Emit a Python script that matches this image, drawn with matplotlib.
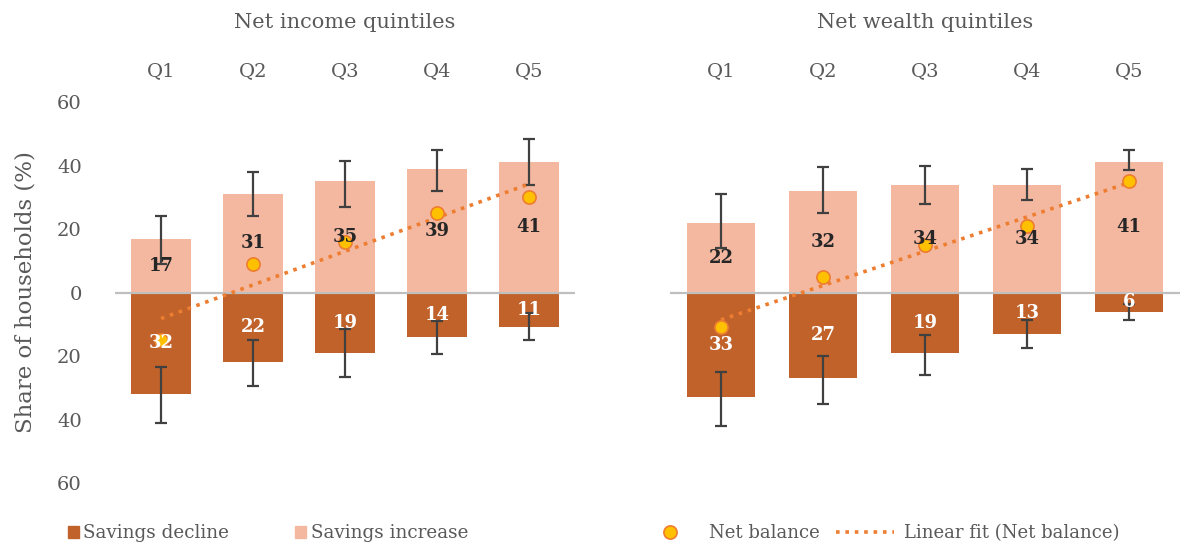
import matplotlib
matplotlib.use("Agg")
import matplotlib.pyplot as plt
from matplotlib.lines import Line2D
from matplotlib.patches import Patch
import numpy as np

quintiles = ["Q1", "Q2", "Q3", "Q4", "Q5"]

# Net income quintiles
inc_increase = [17, 31, 35, 39, 41]
inc_decline = [32, 22, 19, 14, 11]
inc_net = [-15, 9, 16, 25, 30]
inc_inc_lo = [9, 24, 27, 32, 34]
inc_inc_hi = [24, 38, 41.5, 45, 48.5]
inc_dec_lo = [23.5, 15, 11.5, 9, 6.5]
inc_dec_hi = [41, 29.5, 26.5, 19.5, 15]

# Net wealth quintiles
wea_increase = [22, 32, 34, 34, 41]
wea_decline = [33, 27, 19, 13, 6]
wea_net = [-11, 5, 15, 21, 35]
wea_inc_lo = [14, 25, 28, 29, 38.5]
wea_inc_hi = [31, 39.5, 40, 39, 45]
wea_dec_lo = [25, 20, 13.5, 8.5, 3.5]
wea_dec_hi = [42, 35, 26, 17.5, 8.5]

DECLINE = "#C0622A"
INCREASE = "#F4B8A0"
DOT_FILL = "#FFC000"
DOT_EDGE = "#ED7D31"
ERR = "#404040"
TXT = "#595959"
FONT = "DejaVu Serif"

plt.rcParams["font.family"] = FONT

fig = plt.figure(figsize=(11.92, 5.5), dpi=100)
ax1 = fig.add_axes([0.0965, 0.1218, 0.386, 0.6927])
ax2 = fig.add_axes([0.562, 0.1218, 0.428, 0.6927])


def draw_panel(ax, title, increase, decline, net, inc_lo, inc_hi, dec_lo, dec_hi, show_y):
    x = np.arange(1, len(quintiles) + 1)
    inc = np.array(increase)
    dec = -np.array(decline)
    ax.bar(x, inc, width=0.66, color=INCREASE, zorder=1)
    ax.bar(x, dec, width=0.66, color=DECLINE, zorder=1)
    ax.axhline(0, color="#BFBFBF", lw=1.6, zorder=2)

    # error bars
    lo = np.array(inc_lo)
    hi = np.array(inc_hi)
    ax.errorbar(x, (lo + hi) / 2, yerr=(hi - lo) / 2, fmt="none", ecolor=ERR,
                elinewidth=1.6, capsize=4, capthick=1.6, zorder=3)
    lo = -np.array(dec_lo)
    hi = -np.array(dec_hi)
    ax.errorbar(x, (lo + hi) / 2, yerr=np.abs(hi - lo) / 2, fmt="none", ecolor=ERR,
                elinewidth=1.6, capsize=4, capthick=1.6, zorder=3)

    # linear fit of net balance
    coef = np.polyfit(x, net, 1)
    ax.plot(x, np.polyval(coef, x), linestyle=(0, (1, 1.6)), color=DOT_EDGE, lw=2.6, zorder=4)
    ax.plot(x, net, "o", ms=9.5, mfc=DOT_FILL, mec=DOT_EDGE, mew=1.2, zorder=5)

    for xi, v in zip(x, inc):
        ax.text(xi, v / 2, f"{v}", ha="center", va="center", fontsize=13,
                fontweight="bold", color="#262626", zorder=6)
    for xi, v in zip(x, dec):
        ax.text(xi, v / 2, f"{-v}", ha="center", va="center", fontsize=13,
                fontweight="bold", color="white", zorder=6)

    ax.set_xlim(0.5, 5.5)
    ax.set_ylim(-60, 60)
    ax.set_xticks(x)
    ax.set_xticklabels(quintiles, fontsize=14, color=TXT)
    ax.xaxis.tick_top()
    ax.tick_params(axis="x", length=0, pad=16)
    ax.set_yticks(range(-60, 61, 20))
    if show_y:
        ax.set_yticklabels([str(abs(t)) for t in range(-60, 61, 20)], fontsize=14, color=TXT)
        ax.tick_params(axis="y", length=0, pad=24)
        ax.set_ylabel("Share of households (%)", fontsize=16.5, color=TXT, labelpad=15)
    else:
        ax.set_yticks([])
    for s in ax.spines.values():
        s.set_visible(False)
    ax.set_title(title, fontsize=15, color=TXT, pad=53)


draw_panel(ax1, "Net income quintiles", inc_increase, inc_decline, inc_net,
           inc_inc_lo, inc_inc_hi, inc_dec_lo, inc_dec_hi, True)
draw_panel(ax2, "Net wealth quintiles", wea_increase, wea_decline, wea_net,
           wea_inc_lo, wea_inc_hi, wea_dec_lo, wea_dec_hi, False)

h_left = [Patch(color=DECLINE, label="Savings decline"),
          Patch(color=INCREASE, label="Savings increase")]
fig.legend(handles=h_left, loc="center left", bbox_to_anchor=(0.043, 0.03),
           ncol=2, frameon=False, fontsize=13.2, handlelength=0.6, handleheight=0.6,
           handletextpad=0.25, columnspacing=3.6, labelcolor=TXT)
h_right = [Line2D([], [], marker="o", ls="none", ms=9.5, mfc=DOT_FILL, mec=DOT_EDGE,
                  mew=1.2, label="Net balance"),
           Line2D([], [], ls=(0, (1, 1.6)), color=DOT_EDGE, lw=2.6,
                  label="Linear fit (Net balance)")]
fig.legend(handles=h_right, loc="center left", bbox_to_anchor=(0.524, 0.03),
           ncol=2, frameon=False, fontsize=13, handlelength=3.2, handletextpad=0.55,
           columnspacing=0.95, labelcolor=TXT)

fig.savefig("out.png", dpi=100)
